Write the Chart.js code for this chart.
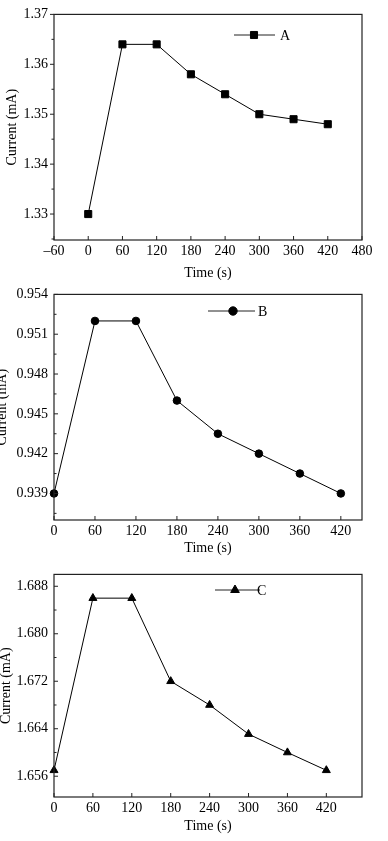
<!DOCTYPE html>
<html>
<head>
<meta charset="utf-8">
<script src="https://cdn.jsdelivr.net/npm/chart.js@4.4.1/dist/chart.umd.min.js"></script>
<style>
    html, body { margin: 0; padding: 0; background: #fff; }
    .painel { position: absolute; left: 0; width: 388px; }
</style>
</head>
<body>
<div class="painel" style="top:0;height:280px"><canvas id="chartA" width="388" height="280"></canvas></div>
<div class="painel" style="top:280px;height:280px"><canvas id="chartB" width="388" height="280"></canvas></div>
<div class="painel" style="top:560px;height:281px"><canvas id="chartC" width="388" height="281"></canvas></div>
<script>
// Dados (tempo em s, corrente em mA)
const tempo = [0, 60, 120, 180, 240, 300, 360, 420];

const correnteA = [1.330, 1.364, 1.364, 1.358, 1.354, 1.350, 1.349, 1.348];
const correnteB = [0.939, 0.952, 0.952, 0.946, 0.9435, 0.942, 0.9405, 0.939];
const correnteC = [1.657, 1.686, 1.686, 1.672, 1.668, 1.6631, 1.660, 1.657];

const ticksXA = [-60, 0, 60, 120, 180, 240, 300, 360, 420, 480];
const ticksXBC = [0, 60, 120, 180, 240, 300, 360, 420];

const ticksYA = [1.33, 1.34, 1.35, 1.36, 1.37];
const ticksYB = [0.939, 0.942, 0.945, 0.948, 0.951, 0.954];
const ticksYC = [1.656, 1.664, 1.672, 1.680, 1.688];

const fonte = "'Liberation Serif', 'Times New Roman', serif";
const corTexto = '#000';

// Moldura, marcas dos eixos e legenda
const moldura = {
    id: 'moldura',
    afterDraw(chart, args, opts) {
        const { ctx, chartArea: a, scales } = chart;
        ctx.save();
        ctx.strokeStyle = '#222';
        ctx.lineWidth = 1.2;
        ctx.strokeRect(a.left, a.top, a.right - a.left, a.bottom - a.top);

        ctx.lineWidth = 1;
        ctx.beginPath();
        scales.x.ticks.forEach(t => {
            const px = scales.x.getPixelForValue(t.value);
            ctx.moveTo(px, a.bottom);
            ctx.lineTo(px, a.bottom - 4);
        });
        const ys = scales.y;
        const sentido = opts.yFora ? -1 : 1;
        const passo = ys.ticks[1].value - ys.ticks[0].value;
        ys.ticks.forEach(t => {
            const py = ys.getPixelForValue(t.value);
            ctx.moveTo(a.left, py);
            ctx.lineTo(a.left + 4 * sentido, py);
        });
        const menores = [ys.ticks[0].value - passo / 2].concat(ys.ticks.map(t => t.value + passo / 2));
        menores.filter(v => v >= ys.min && v <= ys.max).forEach(v => {
            const py = ys.getPixelForValue(v);
            ctx.moveTo(a.left, py);
            ctx.lineTo(a.left + 2.5 * sentido, py);
        });
        ctx.stroke();

        // legenda
        const ds = chart.data.datasets[0];
        const lg = opts.legenda;
        ctx.beginPath();
        ctx.moveTo(lg.x0, lg.y);
        ctx.lineTo(lg.x1, lg.y);
        ctx.stroke();
        ctx.fillStyle = '#000';
        ctx.strokeStyle = '#000';
        Chart.helpers.drawPoint(ctx, { pointStyle: ds.pointStyle, radius: lg.raio, rotation: 0, borderWidth: 1 }, lg.xm, lg.y);
        ctx.fillStyle = corTexto;
        ctx.font = '14px ' + fonte;
        ctx.textAlign = 'left';
        ctx.textBaseline = 'middle';
        ctx.fillText(ds.label, lg.xt, lg.y + 1);
        ctx.restore();
    }
};

function criarGrafico(id, rotulo, corrente, estilo, raio, limX, limY, ticksX, ticksY, casas, geo) {
    const ctx = document.getElementById(id).getContext('2d');
    return new Chart(ctx, {
        type: 'line',
        data: {
            datasets: [{
                label: rotulo,
                data: tempo.map((t, i) => ({ x: t, y: corrente[i] })),
                borderColor: '#000',
                borderWidth: 1,
                backgroundColor: '#000',
                pointStyle: estilo,
                pointRadius: raio,
                pointBackgroundColor: '#000',
                pointBorderColor: '#000',
                tension: 0,
                clip: false
            }]
        },
        options: {
            responsive: false,
            animation: false,
            layout: { padding: { top: geo.topo, right: 26, bottom: 0, left: 0 } },
            plugins: {
                legend: { display: false },
                tooltip: { enabled: false },
                moldura: { yFora: geo.yFora, legenda: geo.legenda }
            },
            scales: {
                x: {
                    type: 'linear',
                    min: limX[0],
                    max: limX[1],
                    afterBuildTicks: s => { s.ticks = ticksX.map(v => ({ value: v })); },
                    afterFit: s => { s.height = geo.alturaX; },
                    grid: { display: false, drawTicks: false },
                    border: { display: false },
                    ticks: {
                        autoSkip: false,
                        maxRotation: 0,
                        padding: 3,
                        color: corTexto,
                        font: { family: fonte, size: 14 },
                        callback: v => v < 0 ? '\u2013' + Math.abs(v) : String(v)
                    },
                    title: {
                        display: true,
                        text: 'Time (s)',
                        color: corTexto,
                        font: { family: fonte, size: 14, lineHeight: 1 },
                        padding: { top: 0, bottom: geo.tituloX }
                    }
                },
                y: {
                    type: 'linear',
                    min: limY[0],
                    max: limY[1],
                    afterBuildTicks: s => { s.ticks = ticksY.map(v => ({ value: v })); },
                    afterFit: s => { s.width = 54; },
                    grid: { display: false, drawTicks: false },
                    border: { display: false },
                    ticks: {
                        padding: 6,
                        color: corTexto,
                        font: { family: fonte, size: 14 },
                        callback: v => Number(v).toFixed(casas)
                    },
                    title: {
                        display: true,
                        text: 'Current (mA)',
                        color: corTexto,
                        font: { family: fonte, size: 14, lineHeight: 1 },
                        padding: { top: geo.tituloY, bottom: 0 }
                    }
                }
            }
        },
        plugins: [moldura]
    });
}

document.addEventListener('DOMContentLoaded', () => {
    criarGrafico('chartA', 'A', correnteA, 'rect', 5, [-60, 480], [1.3248, 1.37], ticksXA, ticksYA, 2, {
        topo: 13, alturaX: 40, tituloX: 0, tituloY: 5, yFora: true,
        legenda: { x0: 234, x1: 275, xm: 254, xt: 280, y: 35, raio: 5 }
    });
    criarGrafico('chartB', 'B', correnteB, 'circle', 3.8, [0, 451], [0.937, 0.954], ticksXBC, ticksYB, 3, {
        topo: 13, alturaX: 40, tituloX: 5, tituloY: -5, yFora: false,
        legenda: { x0: 208, x1: 255, xm: 233, xt: 258, y: 31, raio: 4.2 }
    });
    criarGrafico('chartC', 'C', correnteC, 'triangle', 4.6, [0, 475], [1.6525, 1.690], ticksXBC, ticksYC, 3, {
        topo: 11, alturaX: 44, tituloX: 8, tituloY: -1, yFora: false,
        legenda: { x0: 215, x1: 260, xm: 235, xt: 257, y: 30, raio: 5 }
    });
});
</script>
</body>
</html>
